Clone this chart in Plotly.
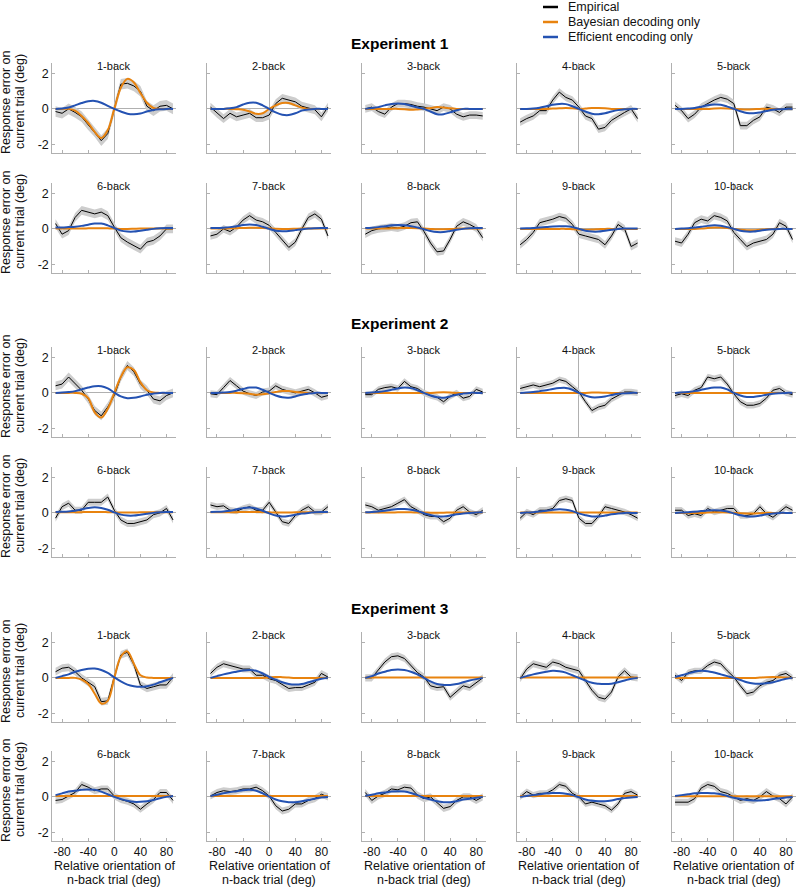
import plotly.graph_objects as go

# ---------------- data ----------------
X_DEG = [-90, -80, -70, -60, -50, -40, -30, -20, -10, 0, 10, 20, 30, 40, 50, 60, 70, 80, 90]
PANEL_LABELS = ["1-back", "2-back", "3-back", "4-back", "5-back",
                "6-back", "7-back", "8-back", "9-back", "10-back"]
EXPERIMENTS = ["Experiment 1", "Experiment 2", "Experiment 3"]
X_TICKS = [-80, -40, 0, 40, 80]
X_TICK_TEXT = ["-80", "-40", "0", "40", "80"]
Y_TICKS = [-2, 0, 2]
Y_TICK_TEXT = ["-2", "0", "2"]
SERIES_NAMES = ["Empirical", "Bayesian decoding only", "Efficient encoding only"]

exp1_empirical = [
    [-0.15, -0.25, 0.0, -0.2, -0.45, -0.9, -1.3, -1.8, -1.4, -0.05, 1.4, 1.45, 1.3, 1.0, 0.15, -0.1, 0.15, 0.2, 0.0],
    [0.1, -0.25, -0.55, -0.25, -0.45, -0.35, -0.25, -0.5, -0.5, -0.35, 0.3, 0.6, 0.5, 0.4, 0.15, 0.05, -0.05, -0.45, 0.1],
    [0.0, 0.1, -0.15, -0.3, 0.1, 0.3, 0.3, 0.25, 0.15, 0.1, 0.0, -0.1, 0.1, 0.0, -0.3, -0.45, -0.35, -0.35, -0.4],
    [-0.75, -0.55, -0.4, -0.1, -0.1, 0.5, 0.95, 0.65, 0.5, 0.1, -0.4, -0.55, -1.15, -1.05, -0.65, -0.4, -0.2, 0.0, -0.55],
    [0.2, -0.1, -0.55, -0.3, 0.1, 0.3, 0.5, 0.65, 0.55, 0.3, -0.95, -0.95, -0.65, -0.45, 0.1, 0.0, -0.2, 0.1, 0.1],
    [0.3, -0.3, -0.1, 0.65, 1.05, 0.95, 0.85, 0.95, 0.75, 0.1, -0.5, -0.75, -0.95, -1.15, -0.75, -0.65, -0.4, 0.0, 0.0],
    [-0.4, -0.3, 0.0, -0.15, 0.1, 0.5, 0.75, 0.5, 0.4, 0.2, -0.2, -0.65, -1.05, -0.75, 0.0, 0.65, 0.85, 0.55, -0.4],
    [-0.3, -0.1, 0.0, 0.05, 0.1, 0.05, 0.15, 0.35, 0.4, -0.15, -0.8, -1.3, -1.25, -0.6, 0.15, 0.4, 0.25, 0.05, -0.5],
    [-0.9, -0.6, -0.2, 0.35, 0.45, 0.55, 0.7, 0.6, 0.25, -0.3, -0.4, -0.5, -0.6, -0.9, -0.4, 0.25, 0.0, -1.0, -0.8],
    [-0.7, -0.8, -0.3, 0.35, 0.55, 0.45, 0.75, 0.65, 0.45, -0.2, -0.6, -1.0, -0.8, -0.7, -0.6, -0.3, 0.35, 0.15, -0.6],
]
exp1_bayesian = [
    [0, 0, 0, -0.1, -0.4, -0.8, -1.3, -1.65, -1.2, 0, 1.2, 1.7, 1.5, 0.9, 0.35, 0.05, 0, 0, 0],
    [0, 0, 0, 0, -0.02, -0.05, -0.15, -0.28, -0.25, 0, 0.2, 0.33, 0.33, 0.2, 0.07, 0, 0, 0, 0],
    [0, 0, 0, 0, 0, 0, -0.02, -0.05, -0.03, 0, 0.05, 0.1, 0.08, 0.03, 0, 0, 0, 0, 0],
    [0, 0, 0, 0, 0, 0.02, 0.03, 0.05, 0.03, 0, 0.02, 0.05, 0.05, 0.03, 0, 0, 0, 0, 0],
    [0, 0, 0, 0, 0, 0, 0.02, 0.03, 0.02, 0, -0.02, -0.03, -0.02, 0, 0, 0, 0, 0, 0],
    [0.02, 0.02, 0.02, 0.02, 0.02, 0.03, 0.04, 0.04, 0.03, 0.02, 0.0, 0.0, 0.01, 0.02, 0.02, 0.02, 0.02, 0.02, 0.02],
    [0.02, 0.02, 0.02, 0.03, 0.04, 0.05, 0.06, 0.06, 0.05, 0.03, 0.01, 0.0, 0.0, 0.01, 0.02, 0.02, 0.02, 0.02, 0.02],
    [0.02, 0.02, 0.02, 0.02, 0.03, 0.04, 0.05, 0.05, 0.04, 0.02, 0, -0.02, -0.02, -0.01, 0.01, 0.02, 0.02, 0.02, 0.02],
    [0, 0, 0, 0, 0, 0, 0, 0, -0.02, -0.04, -0.05, -0.04, -0.02, 0, 0, 0, 0, 0, 0],
    [0, 0, 0, 0, 0.02, 0.05, 0.08, 0.08, 0.05, 0, -0.05, -0.08, -0.08, -0.05, -0.02, 0, 0, 0, 0],
]
exp1_efficient = [
    [0, 0.02, 0.08, 0.2, 0.33, 0.43, 0.45, 0.35, 0.17, 0, -0.15, -0.27, -0.3, -0.26, -0.15, -0.06, -0.02, 0, 0],
    [0, 0, 0, 0.03, 0.1, 0.25, 0.35, 0.35, 0.2, 0, -0.2, -0.33, -0.35, -0.25, -0.1, -0.03, 0, 0, 0],
    [0, 0.05, 0.1, 0.2, 0.28, 0.3, 0.28, 0.18, 0.08, 0, -0.15, -0.3, -0.3, -0.2, -0.08, 0, 0, 0, 0],
    [0, 0, 0.02, 0.07, 0.15, 0.23, 0.28, 0.27, 0.15, 0, -0.15, -0.27, -0.3, -0.25, -0.15, -0.07, -0.02, 0, 0],
    [0, 0, 0.02, 0.05, 0.12, 0.2, 0.25, 0.24, 0.13, 0, -0.13, -0.23, -0.25, -0.2, -0.12, -0.05, -0.02, 0, 0],
    [0.08, 0.08, 0.1, 0.12, 0.17, 0.24, 0.3, 0.3, 0.2, 0.05, -0.1, -0.15, -0.15, -0.1, -0.05, 0.0, 0.03, 0.05, 0.05],
    [0.05, 0.05, 0.07, 0.1, 0.15, 0.22, 0.25, 0.22, 0.12, 0.0, -0.1, -0.13, -0.12, -0.07, -0.02, 0.02, 0.04, 0.05, 0.05],
    [0.05, 0.07, 0.1, 0.15, 0.2, 0.22, 0.2, 0.15, 0.08, -0.02, -0.12, -0.18, -0.18, -0.12, -0.05, 0.0, 0.03, 0.05, 0.05],
    [0.02, 0.03, 0.05, 0.08, 0.1, 0.13, 0.15, 0.15, 0.1, 0.0, -0.1, -0.15, -0.15, -0.1, -0.05, 0.0, 0.02, 0.02, 0.02],
    [0.0, 0.02, 0.04, 0.08, 0.12, 0.17, 0.2, 0.18, 0.1, 0.0, -0.1, -0.15, -0.15, -0.1, -0.05, -0.02, 0, 0, 0],
]

exp2_empirical = [
    [0.4, 0.5, 0.9, 0.5, 0.15, -0.35, -1.0, -1.3, -0.8, -0.15, 0.9, 1.55, 1.2, 0.5, 0.15, -0.35, -0.45, -0.15, 0.0],
    [-0.05, -0.1, 0.3, 0.7, 0.4, 0.1, -0.05, -0.15, 0.05, 0.1, 0.4, 0.2, 0.1, 0.0, 0.1, 0.2, 0.0, -0.25, -0.15],
    [-0.1, -0.1, 0.2, 0.3, 0.35, 0.25, 0.65, 0.35, 0.25, 0.0, -0.15, -0.25, -0.5, -0.2, 0.0, -0.3, -0.2, 0.2, 0.05],
    [0.25, 0.35, 0.45, 0.35, 0.45, 0.55, 0.75, 0.65, 0.35, 0.05, -0.5, -1.0, -0.8, -0.7, -0.35, -0.15, 0.05, 0.05, 0.0],
    [-0.15, -0.05, -0.15, 0.15, 0.3, 0.9, 0.8, 0.9, 0.5, -0.05, -0.5, -0.7, -0.7, -0.6, -0.3, 0.15, 0.25, 0.0, -0.1],
    [-0.3, 0.35, 0.55, 0.15, 0.15, 0.6, 0.6, 0.6, 0.9, 0.15, -0.4, -0.6, -0.6, -0.5, -0.4, -0.1, 0.0, 0.25, -0.4],
    [0.45, 0.35, 0.4, 0.15, 0.1, 0.25, 0.35, 0.15, 0.15, 0.6, 0.05, -0.5, -0.6, -0.15, 0.15, 0.35, 0.05, 0.05, 0.35],
    [0.45, 0.35, 0.15, 0.25, 0.35, 0.55, 0.75, 0.35, 0.15, -0.1, -0.2, -0.2, -0.5, -0.3, 0.15, 0.35, 0.05, -0.1, 0.15],
    [-0.3, 0.05, -0.1, 0.15, 0.15, 0.25, 0.7, 0.8, 0.7, -0.3, -0.6, -0.6, -0.2, 0.35, 0.25, 0.15, 0.05, -0.1, -0.3],
    [0.15, 0.15, -0.15, -0.05, -0.15, 0.25, 0.05, 0.15, 0.25, 0.25, -0.15, -0.15, -0.05, 0.35, -0.05, -0.25, 0.05, 0.35, 0.15],
]
exp2_bayesian = [
    [0, 0, 0, 0, -0.05, -0.3, -1.1, -1.4, -0.9, 0, 0.9, 1.45, 1.3, 0.6, 0.15, 0.02, 0, 0, 0],
    [0, 0, 0, 0, 0, -0.02, -0.05, -0.1, -0.08, -0.02, 0.05, 0.1, 0.1, 0.05, 0.02, 0, 0, 0, 0],
    [0, 0, 0, 0, 0, 0, 0, 0, 0, 0, 0, 0.02, 0.03, 0.02, 0, 0, 0, 0, 0],
    [0, 0, 0, 0, 0, 0, 0, 0, 0, 0, 0, 0.02, 0.02, 0.01, 0, 0, 0, 0, 0],
    [0, 0, 0, 0, 0, 0, 0, 0, 0, 0, 0, 0, 0, 0, 0, 0, 0, 0, 0],
    [0.03, 0.03, 0.03, 0.03, 0.04, 0.05, 0.05, 0.05, 0.04, 0.03, 0.02, 0.02, 0.02, 0.03, 0.03, 0.03, 0.03, 0.03, 0.03],
    [0.03, 0.03, 0.03, 0.03, 0.04, 0.05, 0.05, 0.05, 0.04, 0.03, 0.02, 0.02, 0.02, 0.03, 0.03, 0.03, 0.03, 0.03, 0.03],
    [0.02, 0.02, 0.02, 0.02, 0.02, 0.03, 0.03, 0.03, 0.02, 0.02, 0.01, 0.01, 0.01, 0.02, 0.02, 0.02, 0.02, 0.02, 0.02],
    [0.02, 0.02, 0.02, 0.02, 0.02, 0.02, 0.02, 0.02, 0.02, 0.02, 0.02, 0.02, 0.02, 0.02, 0.02, 0.02, 0.02, 0.02, 0.02],
    [0, 0, 0, 0, 0, 0.02, 0.03, 0.03, 0.02, 0, -0.02, -0.03, -0.03, -0.02, 0, 0, 0, 0, 0],
]
exp2_efficient = [
    [0, 0.02, 0.05, 0.1, 0.2, 0.3, 0.38, 0.38, 0.25, 0.02, -0.2, -0.3, -0.28, -0.2, -0.1, -0.04, 0, 0, 0],
    [0, 0, 0.02, 0.05, 0.12, 0.22, 0.3, 0.3, 0.18, 0.0, -0.15, -0.25, -0.27, -0.2, -0.1, -0.04, 0, 0, 0],
    [0, 0.02, 0.05, 0.1, 0.17, 0.25, 0.3, 0.27, 0.15, 0.0, -0.15, -0.25, -0.27, -0.2, -0.1, -0.04, 0, 0, 0],
    [0, 0.02, 0.05, 0.1, 0.15, 0.22, 0.27, 0.28, 0.18, 0.0, -0.15, -0.25, -0.25, -0.2, -0.12, -0.05, -0.02, 0, 0],
    [0, 0.02, 0.05, 0.1, 0.17, 0.25, 0.3, 0.3, 0.2, 0.0, -0.15, -0.23, -0.23, -0.18, -0.1, -0.05, -0.02, 0, 0],
    [0.05, 0.06, 0.08, 0.12, 0.2, 0.28, 0.32, 0.28, 0.18, 0.03, -0.1, -0.15, -0.15, -0.1, -0.05, 0.0, 0.03, 0.05, 0.05],
    [0.05, 0.06, 0.08, 0.12, 0.2, 0.27, 0.3, 0.25, 0.12, -0.03, -0.15, -0.2, -0.17, -0.1, -0.04, 0.0, 0.03, 0.05, 0.05],
    [0.03, 0.05, 0.08, 0.12, 0.18, 0.22, 0.22, 0.18, 0.1, -0.02, -0.12, -0.2, -0.2, -0.15, -0.08, -0.03, 0, 0.02, 0.03],
    [0.0, 0.02, 0.04, 0.08, 0.12, 0.17, 0.2, 0.18, 0.1, -0.03, -0.13, -0.2, -0.2, -0.15, -0.08, -0.03, 0, 0, 0],
    [0.0, 0.02, 0.04, 0.07, 0.1, 0.13, 0.15, 0.13, 0.08, -0.03, -0.13, -0.2, -0.2, -0.15, -0.08, -0.03, 0, 0, 0],
]

exp3_empirical = [
    [0.35, 0.55, 0.6, 0.35, 0.0, -0.25, -0.5, -1.35, -1.3, 0.05, 1.3, 1.45, 0.75, -0.4, -0.6, -0.5, -0.4, -0.4, 0.05],
    [0.25, 0.6, 0.8, 0.7, 0.6, 0.5, 0.5, 0.15, 0.15, -0.05, -0.15, -0.4, -0.6, -0.55, -0.55, -0.4, -0.25, 0.25, 0.05],
    [0.0, 0.0, 0.45, 0.9, 1.2, 1.25, 1.1, 0.7, 0.3, 0.05, -0.45, -0.55, -0.5, -1.1, -0.8, -0.45, -0.55, -0.25, 0.0],
    [-0.05, 0.5, 0.8, 0.7, 0.6, 0.9, 0.8, 0.6, 0.5, 0.4, -0.15, -0.7, -1.1, -1.2, -0.8, 0.05, 0.4, 0.05, 0.0],
    [0.15, -0.15, 0.3, 0.4, 0.4, 0.7, 0.9, 0.8, 0.4, 0.05, -0.45, -0.9, -0.8, -0.45, -0.25, -0.15, 0.15, 0.25, 0.0],
    [-0.2, -0.15, 0.05, 0.25, 0.7, 0.55, 0.35, 0.45, 0.45, 0.05, -0.15, -0.25, -0.4, -0.7, -0.4, -0.15, 0.25, 0.25, -0.2],
    [0.05, 0.25, 0.35, 0.3, 0.35, 0.45, 0.45, 0.55, 0.35, 0.05, -0.5, -0.8, -0.7, -0.4, -0.4, -0.2, -0.1, 0.15, 0.0],
    [0.25, -0.2, 0.05, 0.2, 0.45, 0.4, 0.55, 0.5, 0.1, -0.1, 0.0, -0.3, -0.65, -0.55, -0.2, 0.0, 0.0, -0.2, 0.0],
    [0.0, 0.3, 0.1, 0.2, 0.2, 0.4, 0.7, 0.6, 0.2, 0.0, -0.4, -0.3, -0.4, -0.5, -0.75, -0.4, 0.2, 0.3, 0.1],
    [-0.3, -0.3, -0.3, -0.1, 0.5, 0.7, 0.6, 0.3, 0.2, 0.0, -0.2, -0.1, -0.2, 0.0, 0.3, 0.05, -0.1, -0.4, 0.0],
]
exp3_bayesian = [
    [0, 0, 0, 0, -0.1, -0.35, -0.9, -1.45, -1.3, 0, 1.2, 1.5, 0.8, 0.15, 0.02, 0, 0, 0, 0],
    [0, 0, 0, 0, 0, 0, 0, 0, 0, 0.02, 0.05, 0.04, 0.02, 0, 0, 0, 0, 0, 0],
    [0.02, 0.02, 0.02, 0.02, 0.02, 0.02, 0.02, 0.02, 0.02, 0.02, 0.02, 0.02, 0.02, 0.02, 0.02, 0.02, 0.02, 0.02, 0.02],
    [0.02, 0.02, 0.02, 0.02, 0.02, 0.02, 0.02, 0.02, 0.02, 0.02, 0.02, 0.02, 0.02, 0.02, 0.02, 0.02, 0.02, 0.02, 0.02],
    [0, 0, 0, 0, 0, 0, 0, 0, 0, 0, 0, 0, 0, 0.02, 0.04, 0.05, 0.04, 0.02, 0],
    [0.05, 0.05, 0.05, 0.05, 0.05, 0.05, 0.05, 0.05, 0.05, 0.05, 0.05, 0.05, 0.05, 0.05, 0.05, 0.05, 0.05, 0.05, 0.05],
    [0.05, 0.05, 0.05, 0.05, 0.05, 0.05, 0.05, 0.05, 0.05, 0.05, 0.05, 0.05, 0.05, 0.05, 0.05, 0.05, 0.05, 0.05, 0.05],
    [0.05, 0.05, 0.05, 0.05, 0.05, 0.05, 0.05, 0.05, 0.05, 0.05, 0.05, 0.05, 0.05, 0.05, 0.05, 0.05, 0.05, 0.05, 0.05],
    [0.05, 0.05, 0.05, 0.05, 0.05, 0.05, 0.05, 0.05, 0.05, 0.05, 0.05, 0.05, 0.05, 0.05, 0.05, 0.05, 0.05, 0.05, 0.05],
    [0.03, 0.03, 0.03, 0.03, 0.03, 0.03, 0.03, 0.03, 0.03, 0.03, 0.03, 0.03, 0.03, 0.03, 0.03, 0.03, 0.03, 0.03, 0.03],
]
exp3_efficient = [
    [0, 0.1, 0.2, 0.35, 0.45, 0.52, 0.53, 0.45, 0.28, 0.03, -0.2, -0.38, -0.47, -0.5, -0.47, -0.38, -0.25, -0.12, 0],
    [0, 0.1, 0.2, 0.28, 0.35, 0.42, 0.45, 0.4, 0.25, 0.05, -0.1, -0.25, -0.35, -0.38, -0.35, -0.25, -0.15, -0.05, 0],
    [0, 0.1, 0.25, 0.35, 0.45, 0.47, 0.45, 0.35, 0.2, 0.0, -0.2, -0.35, -0.4, -0.4, -0.35, -0.25, -0.15, -0.07, 0],
    [0, 0.1, 0.2, 0.28, 0.35, 0.4, 0.38, 0.3, 0.15, 0, -0.15, -0.28, -0.33, -0.35, -0.33, -0.25, -0.15, -0.05, 0],
    [0.05, 0.15, 0.25, 0.35, 0.4, 0.38, 0.3, 0.2, 0.1, 0, -0.12, -0.25, -0.32, -0.33, -0.3, -0.25, -0.15, -0.05, 0],
    [0.1, 0.2, 0.3, 0.35, 0.4, 0.42, 0.4, 0.3, 0.15, 0, -0.12, -0.22, -0.28, -0.28, -0.25, -0.18, -0.08, 0, 0.05],
    [0.05, 0.12, 0.2, 0.27, 0.32, 0.38, 0.4, 0.35, 0.2, 0.02, -0.15, -0.25, -0.3, -0.3, -0.25, -0.18, -0.1, -0.03, 0],
    [0.05, 0.12, 0.2, 0.25, 0.3, 0.32, 0.3, 0.22, 0.1, -0.05, -0.15, -0.25, -0.3, -0.3, -0.25, -0.15, -0.1, -0.05, 0],
    [0, 0.05, 0.1, 0.15, 0.2, 0.22, 0.22, 0.18, 0.1, -0.02, -0.15, -0.22, -0.25, -0.25, -0.2, -0.12, -0.07, -0.03, 0],
    [0.05, 0.1, 0.15, 0.2, 0.22, 0.22, 0.2, 0.15, 0.05, -0.05, -0.12, -0.18, -0.2, -0.2, -0.18, -0.12, -0.08, -0.03, 0],
]

# half-width of the grey error band, per panel
exp1_se = [0.3, 0.25, 0.22, 0.22, 0.22, 0.25, 0.22, 0.22, 0.22, 0.22]
exp2_se = [0.25, 0.2, 0.18, 0.18, 0.18, 0.2, 0.18, 0.18, 0.18, 0.18]
exp3_se = [0.22, 0.2, 0.2, 0.2, 0.18, 0.2, 0.2, 0.2, 0.18, 0.2]

EMPIRICAL = [exp1_empirical, exp2_empirical, exp3_empirical]
BAYESIAN = [exp1_bayesian, exp2_bayesian, exp3_bayesian]
EFFICIENT = [exp1_efficient, exp2_efficient, exp3_efficient]
SE = [exp1_se, exp2_se, exp3_se]

# ---------------- style / layout ----------------
W, H = 796, 887
FONT = "Liberation Sans, Arial, sans-serif"
C_EMP = "#000000"
C_BAY = "#E8830F"
C_EFF = "#2452B2"
C_BAND = "#CDCDCD"
C_AXIS = "#B0B0B0"

COL_LEFT = [52.3, 207.2, 362.0, 516.9, 671.8]
PANEL_W = 124.0
ROW_TOP = [63, 183, 347, 467, 632, 751]
PANEL_H = 90.0
EXP_TITLE_Y = [43, 323, 608]
X_RANGE = [-95, 95]
Y_RANGE = [-2.5, 2.6]


def px(x):
    return x / W


def py(y):
    return 1 - y / H


fig = go.Figure()
annotations = []
shapes = []
layout_axes = {}

idx = 0
for e in range(3):
    for p in range(10):
        idx += 1
        r = e * 2 + p // 5
        c = p % 5
        xa = "x" if idx == 1 else f"x{idx}"
        ya = "y" if idx == 1 else f"y{idx}"
        emp = EMPIRICAL[e][p]
        se = SE[e][p]
        upper = [v + se for v in emp]
        lower = [v - se for v in emp]
        fig.add_trace(go.Scatter(
            x=X_DEG + X_DEG[::-1], y=upper + lower[::-1], fill="toself",
            fillcolor=C_BAND, line=dict(width=0), mode="lines",
            hoverinfo="skip", showlegend=False, xaxis=xa, yaxis=ya))
        fig.add_trace(go.Scatter(
            x=X_DEG, y=emp, mode="lines", line=dict(color=C_EMP, width=1),
            name=SERIES_NAMES[0], showlegend=False, xaxis=xa, yaxis=ya))
        fig.add_trace(go.Scatter(
            x=X_DEG, y=BAYESIAN[e][p], mode="lines",
            line=dict(color=C_BAY, width=2, shape="spline", smoothing=1.0),
            name=SERIES_NAMES[1], showlegend=False, xaxis=xa, yaxis=ya))
        fig.add_trace(go.Scatter(
            x=X_DEG, y=EFFICIENT[e][p], mode="lines",
            line=dict(color=C_EFF, width=2, shape="spline", smoothing=1.0),
            name=SERIES_NAMES[2], showlegend=False, xaxis=xa, yaxis=ya))

        x0 = COL_LEFT[c]
        t = ROW_TOP[r]
        bottom_row = (r == 5)
        layout_axes["xaxis" if idx == 1 else f"xaxis{idx}"] = dict(
            domain=[px(x0), px(x0 + PANEL_W)], anchor=ya, range=X_RANGE,
            tickvals=X_TICKS, ticktext=X_TICK_TEXT, ticks="inside", ticklen=3,
            tickcolor=C_AXIS, showline=True, linecolor=C_AXIS, linewidth=1,
            mirror=False, showgrid=False, zeroline=True, zerolinecolor=C_AXIS,
            zerolinewidth=1, showticklabels=bottom_row,
            tickfont=dict(size=12, color="#111"))
        layout_axes["yaxis" if idx == 1 else f"yaxis{idx}"] = dict(
            domain=[py(t + PANEL_H), py(t)], anchor=xa, range=Y_RANGE,
            tickvals=Y_TICKS, ticktext=Y_TICK_TEXT, ticks="inside", ticklen=3,
            tickcolor=C_AXIS, showline=True, linecolor=C_AXIS, linewidth=1,
            showgrid=False, zeroline=True, zerolinecolor=C_AXIS, zerolinewidth=1,
            showticklabels=(c == 0), tickfont=dict(size=12.5, color="#111"))

        zero_x = x0 + PANEL_W * (0 - X_RANGE[0]) / (X_RANGE[1] - X_RANGE[0])
        annotations.append(dict(
            text=PANEL_LABELS[p], x=px(zero_x), y=py(t + 3), xref="paper", yref="paper",
            xanchor="center", yanchor="middle", showarrow=False,
            font=dict(size=11, color="#111")))
        if bottom_row:
            annotations.append(dict(
                text="Relative orientation of", x=px(zero_x), y=py(866),
                xref="paper", yref="paper", xanchor="center", yanchor="middle",
                showarrow=False, font=dict(size=12.5, color="#111")))
            annotations.append(dict(
                text="n-back trial (deg)", x=px(zero_x), y=py(880),
                xref="paper", yref="paper", xanchor="center", yanchor="middle",
                showarrow=False, font=dict(size=12.5, color="#111")))

# y-axis titles per row
for r in range(6):
    yc = ROW_TOP[r] + PANEL_H / 2 - 6
    annotations.append(dict(
        text="Response error on", x=px(6), y=py(yc), xref="paper", yref="paper",
        xanchor="center", yanchor="middle", textangle=-90, showarrow=False,
        font=dict(size=12.5, color="#111")))
    annotations.append(dict(
        text="current trial (deg)", x=px(20), y=py(yc), xref="paper", yref="paper",
        xanchor="center", yanchor="middle", textangle=-90, showarrow=False,
        font=dict(size=12.5, color="#111")))

# experiment titles
for e in range(3):
    annotations.append(dict(
        text=f"<b>{EXPERIMENTS[e]}</b>", x=px(400), y=py(EXP_TITLE_Y[e]),
        xref="paper", yref="paper", xanchor="center", yanchor="middle",
        showarrow=False, font=dict(size=15.5, color="#000")))

# legend (drawn manually for precise placement)
LEG_Y = [7, 22, 37]
LEG_COLORS = [C_EMP, C_BAY, C_EFF]
for i in range(3):
    shapes.append(dict(type="line", xref="paper", yref="paper",
                       x0=px(543), x1=px(558), y0=py(LEG_Y[i]), y1=py(LEG_Y[i]),
                       line=dict(color=LEG_COLORS[i], width=2.5)))
    annotations.append(dict(
        text=SERIES_NAMES[i], x=px(566), y=py(LEG_Y[i]), xref="paper", yref="paper",
        xanchor="left", yanchor="middle", showarrow=False,
        font=dict(size=12.5, color="#111")))

fig.update_layout(
    width=W, height=H, autosize=False,
    margin=dict(l=0, r=0, t=0, b=0),
    paper_bgcolor="white", plot_bgcolor="white",
    font=dict(family=FONT, size=12.5, color="#111"),
    showlegend=False,
    annotations=annotations, shapes=shapes,
    **layout_axes)

fig.write_html("out.html",
               config={"displayModeBar": False},
               post_script="document.body.style.margin='0';document.body.style.padding='0';")
